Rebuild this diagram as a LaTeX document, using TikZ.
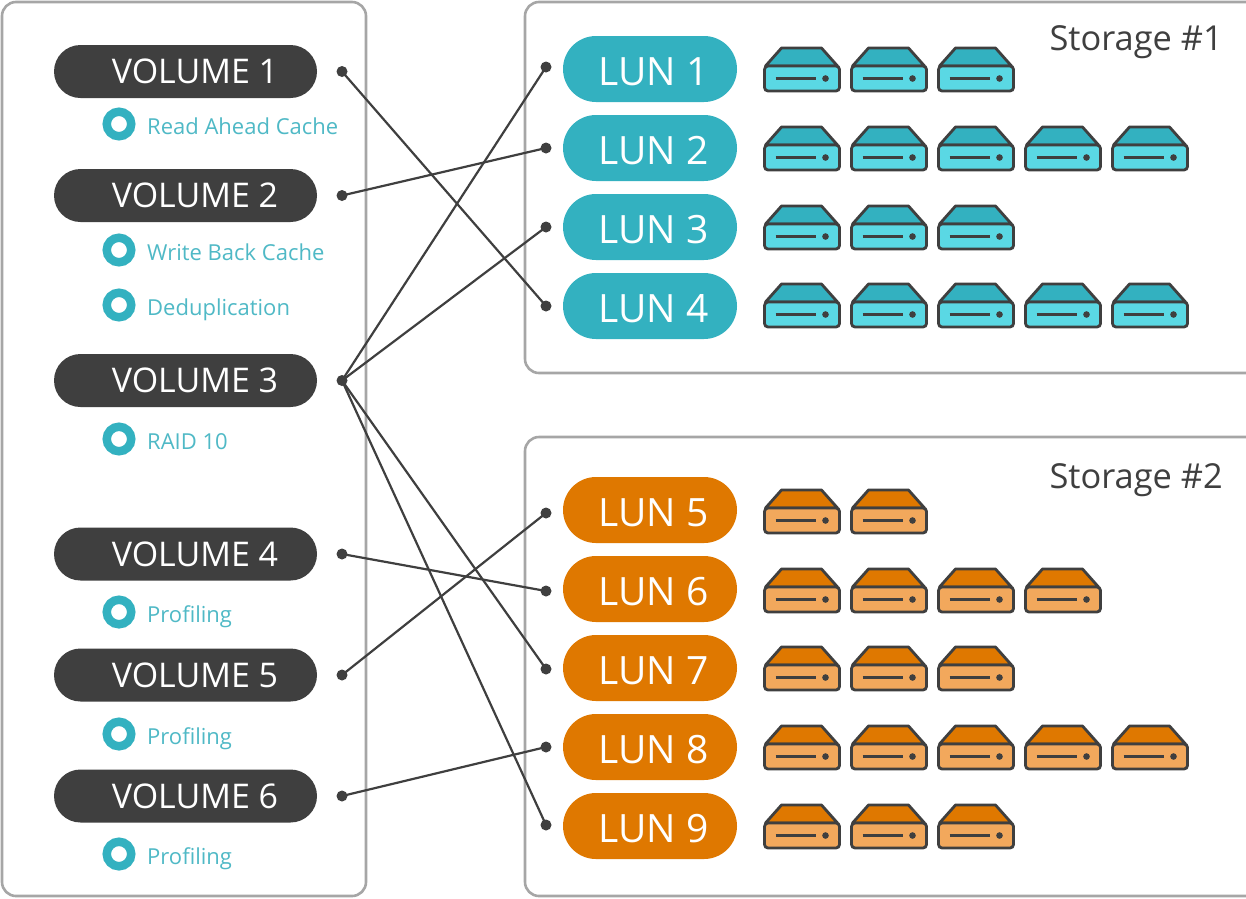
\documentclass[tikz,border=0pt]{standalone}
\usepackage{fontspec}
\setmainfont{Open Sans}
\definecolor{dark}{HTML}{3F3F3F}
\definecolor{teal1}{HTML}{33B1C0}
\definecolor{teal2}{HTML}{5AD8E4}
\definecolor{teal3}{HTML}{4FB9C6}
\definecolor{orange1}{HTML}{DF7800}
\definecolor{orange2}{HTML}{F2A85C}
\definecolor{panel}{HTML}{A6A6A6}
\tikzset{
 x=1pt,y=-1pt,
 panelbox/.style={draw=panel,line width=2.6pt,rounded corners=14pt,fill=white},
 volbox/.style={fill=dark,text=white,rounded corners=26.5pt,minimum width=263pt,minimum height=53pt,inner sep=0pt,font=\fontsize{34}{34}\selectfont},
 lunbox/.style={text=white,rounded corners=33pt,minimum width=174pt,minimum height=66pt,inner sep=0pt,text height=32pt,text depth=0pt,font=\fontsize{39}{39}\selectfont},
 port/.style={circle,fill=dark,minimum size=11pt,inner sep=0pt},
 wire/.style={draw=dark,line width=2.2pt},
 ring/.style={circle,draw=teal1,line width=8.5pt,fill=white,minimum size=24.5pt,inner sep=0pt},
 featlabel/.style={anchor=base west,text=teal3,inner sep=0pt,font=\fontsize{22}{24}\selectfont},
 storelabel/.style={anchor=base east,text=dark,inner sep=0pt,font=\fontsize{34.4}{34}\selectfont},
 pics/drive/.style n args={2}{code={
   \draw[line width=2.8pt,draw=dark,fill=#1,line join=round] (2,19) -- (18,1) -- (58,1) -- (74,19) -- cycle;
   \draw[line width=2.8pt,draw=dark,fill=#2,rounded corners=3.5pt] (1,19) rectangle (76,44);
   \draw[line width=2.4pt,draw=dark] (12,31.5) -- (52,31.5);
   \fill[dark] (62,31.5) circle (3.3pt);
 }},
}
\begin{document}
\begin{tikzpicture}
\useasboundingbox (0,0) rectangle (1246,898);
\clip (0,0) rectangle (1246,898);
\draw[panelbox] (2,2) rectangle (366,896);
\draw[panelbox] (525,2) rectangle (1262,373);
\draw[panelbox] (525,437) rectangle (1262,896);
\node[storelabel] (s1) at (1223,50) {Storage \#1};
\node[storelabel] (s2) at (1223,488) {Storage \#2};
% volumes
\foreach \n/\y in {1/71.5,2/195.5,3/380.5,4/554,5/675,6/796}{
  \node[volbox] (v\n) at (185.5,\y) {\hspace*{19pt}VOLUME \n};
  \node[port] (pv\n) at (342,\y) {};
}
% features
\foreach \i/\y/\b/\t in {1/124/134/Read Ahead Cache,2/250/260/Write Back Cache,3/305/315/Deduplication,4/439/449/RAID 10,5/612/622/Profiling,6/734/744/Profiling,7/854/864/Profiling}{
  \node[ring] (r\i) at (119,\y) {};
  \node[featlabel] (f\i) at (147,\b) {\t};
}
% LUNs
\foreach \n/\y/\py/\c in {1/69/67/teal1,2/148/148/teal1,3/227/227/teal1,4/306/306/teal1,5/510/513/orange1,6/589/591/orange1,7/668/669/orange1,8/747/747/orange1,9/826/825/orange1}{
  \node[lunbox,fill=\c] (l\n) at (650,\y) {\hspace*{7pt}LUN \n};
  \node[port] (pl\n) at (546,\py) {};
}
% connectors
\foreach \a/\b in {1/4,2/2,3/1,3/3,3/7,3/9,4/6,5/5,6/8}{
  \draw[wire] (pv\a.center) -- (pl\b.center);
}
% drives
\foreach \y/\m in {47/3,126/5,205/3,283/5}{
  \foreach \k in {1,...,\m}{
    \pic at ({763.5+87*(\k-1)},\y) {drive={teal1}{teal2}};
  }
}
\foreach \y/\m in {489/2,568/4,646/3,725/5,804/3}{
  \foreach \k in {1,...,\m}{
    \pic at ({763.5+87*(\k-1)},\y) {drive={orange1}{orange2}};
  }
}
\end{tikzpicture}
\end{document}
